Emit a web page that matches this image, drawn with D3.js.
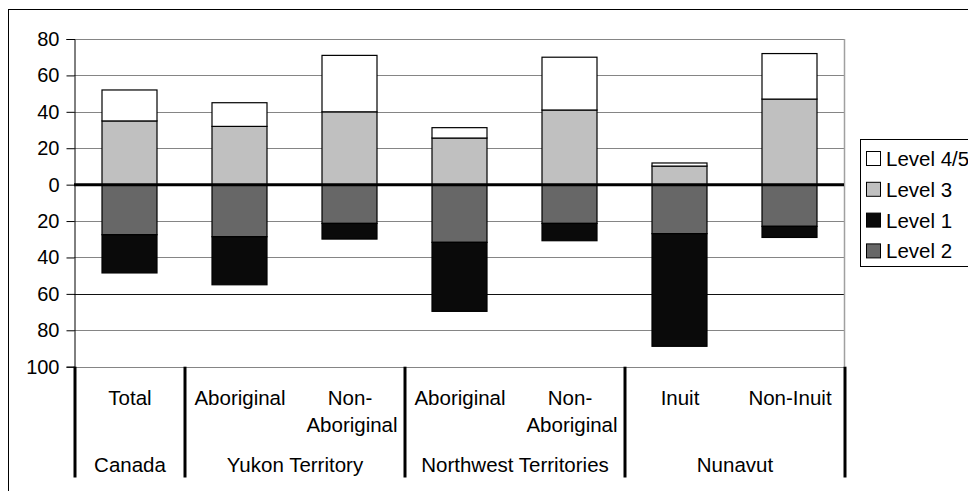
<!DOCTYPE html>
<html>
<head>
<meta charset="utf-8">
<script src="https://cdn.jsdelivr.net/npm/d3@7/dist/d3.min.js"></script>
<style>
  html, body { margin: 0; padding: 0; background: #fff; }
  svg { display: block; font-family: "Liberation Sans", Arial, sans-serif; }
</style>
</head>
<body>
<svg id="chart" width="968" height="491"></svg>
<script>
// ---- Data ----
const categories = ["Total", "Aboriginal", "Non-Aboriginal", "Aboriginal", "Non-Aboriginal", "Inuit", "Non-Inuit"];
const groups = ["Canada", "Yukon Territory", "Northwest Territories", "Nunavut"];
const groupSizes = [1, 2, 2, 2];
const level3  = [35, 32, 40, 25.6, 41, 10.2, 47];
const level45 = [17, 13, 31, 5.7, 29, 1.7, 25];
const level2  = [27.5, 28.6, 21.3, 31.7, 21.3, 26.9, 22.9];
const level1  = [21, 26.4, 8.6, 37.9, 9.5, 61.9, 6.1];
const yTicks = [-100, -80, -60, -40, -20, 0, 20, 40, 60, 80];
const legendItems = ["Level 4/5", "Level 3", "Level 1", "Level 2"];
const colors = { "Level 4/5": "#ffffff", "Level 3": "#c0c0c0", "Level 1": "#0a0a0a", "Level 2": "#676767" };

// ---- Layout ----
const svg = d3.select("#chart");
const L = 74, R = 844, T = 39, B = 366.7;

const x = d3.scaleBand().domain(d3.range(categories.length)).range([L, R]).paddingInner(0.5).paddingOuter(0.25);
const y = d3.scaleLinear().domain([-100, 80]).range([B, T]);

// outer frame
svg.append("rect").attr("x", 8.5).attr("y", 9.5).attr("width", 1200).attr("height", 1000)
  .attr("fill", "none").attr("stroke", "#000").attr("stroke-width", 1);

// gridlines
svg.append("g").selectAll("line").data(yTicks).join("line")
  .attr("x1", L).attr("x2", R)
  .attr("y1", d => Math.round(y(d)) + 0.5).attr("y2", d => Math.round(y(d)) + 0.5)
  .attr("stroke", d => d === -60 ? "#111" : "#858585").attr("stroke-width", 1);

// plot right border
svg.append("line").attr("x1", R + 0.5).attr("x2", R + 0.5).attr("y1", T).attr("y2", B)
  .attr("stroke", "#a0a0a0").attr("stroke-width", 1.5);

// y axis
const yAxis = d3.axisLeft(y).tickValues(yTicks).tickSize(8).tickPadding(7)
  .tickFormat(d => String(Math.abs(d)));
const gy = svg.append("g").attr("transform", `translate(${L + 0.5},0)`).call(yAxis);
gy.select(".domain").attr("stroke", "#000");
gy.selectAll(".tick line").attr("stroke", "#000");
gy.selectAll(".tick text").attr("font-size", 20).attr("fill", "#000")
  .attr("font-family", "Liberation Sans, Arial, sans-serif");

// stacked bars
const stacks = categories.map((c, i) => ([
  { key: "Level 3", y0: 0, y1: level3[i], i },
  { key: "Level 4/5", y0: level3[i], y1: level3[i] + level45[i], i },
  { key: "Level 2", y0: 0, y1: -level2[i], i },
  { key: "Level 1", y0: -level2[i], y1: -level2[i] - level1[i], i }
])).flat();

svg.append("g").selectAll("rect").data(stacks).join("rect")
  .attr("x", d => x(d.i) + 0.5)
  .attr("width", x.bandwidth())
  .attr("y", d => y(Math.max(d.y0, d.y1)))
  .attr("height", d => Math.abs(y(d.y0) - y(d.y1)))
  .attr("fill", d => colors[d.key])
  .attr("stroke", "#000").attr("stroke-width", 1.2);

// zero line
svg.append("line").attr("x1", L).attr("x2", R).attr("y1", y(0)).attr("y2", y(0))
  .attr("stroke", "#000").attr("stroke-width", 3);

// category labels
const catG = svg.append("g").attr("font-size", 20.5).attr("fill", "#000").attr("text-anchor", "middle");
categories.forEach((c, i) => {
  const cx = x(i) + x.bandwidth() / 2 + 1;
  const lines = (c.length > 10 && c.includes("-")) ? [c.slice(0, c.indexOf("-") + 1), c.slice(c.indexOf("-") + 1)] : [c];
  const t = catG.append("text").attr("x", cx).attr("y", 405);
  lines.forEach((ln, k) => {
    t.append("tspan").attr("x", cx + (k > 0 ? 2 : 0)).attr("dy", k === 0 ? 0 : 26.5).text(ln);
  });
});

// group separators and labels
const step = x.step();
let acc = 0;
const bounds = [L];
groupSizes.forEach(s => { acc += s; bounds.push(L + acc * step); });
svg.append("g").selectAll("line").data(bounds).join("line")
  .attr("x1", d => d + 1).attr("x2", d => d + 1)
  .attr("y1", B).attr("y2", 477.5)
  .attr("stroke", "#000").attr("stroke-width", 3);

const grpG = svg.append("g").attr("font-size", 20.5).attr("fill", "#000").attr("text-anchor", "middle");
groups.forEach((g, k) => {
  grpG.append("text").attr("x", (bounds[k] + bounds[k + 1]) / 2 + 1).attr("y", 472).text(g);
});

// legend
svg.append("rect").attr("x", 860.5).attr("y", 139.5).attr("width", 300).attr("height", 127)
  .attr("fill", "#fff").attr("stroke", "#000").attr("stroke-width", 1);
const lg = svg.append("g").selectAll("g").data(legendItems).join("g")
  .attr("transform", (d, k) => `translate(0,${166 + k * 30.8})`);
lg.append("rect").attr("x", 866.5).attr("y", -14.5).attr("width", 14).attr("height", 14)
  .attr("fill", d => colors[d]).attr("stroke", "#000").attr("stroke-width", 1);
lg.append("text").attr("x", 886).attr("y", 0).attr("font-size", 20.5).attr("fill", "#000").text(d => d);
</script>
</body>
</html>
